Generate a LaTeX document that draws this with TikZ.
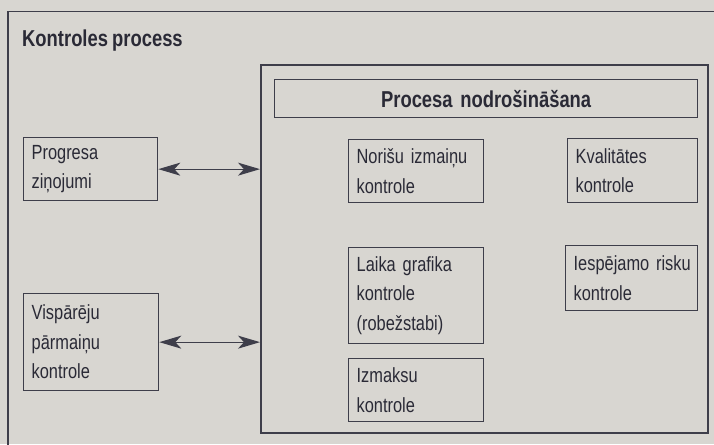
\documentclass[tikz,border=0pt]{standalone}
\usepackage{fontspec}
\setmainfont[FakeStretch=0.8,WordSpace=0.8]{Liberation Sans}
\usetikzlibrary{arrows.meta}
\definecolor{paper}{HTML}{D8D6D1}
\definecolor{ink}{HTML}{3E3E4A}
\definecolor{type}{HTML}{2A2A36}
\tikzset{
  frame/.style={draw=ink, line width=1.5pt, inner sep=0pt, anchor=north west},
  box/.style={draw=ink, line width=1.3pt, anchor=north west, align=left,
    inner xsep=8pt, inner ysep=0pt, text=type,
    font=\fontsize{20.5}{29.5}\selectfont},
  heading/.style={text=type, font=\fontsize{23}{27}\selectfont\bfseries},
  biarrow/.style={draw=ink, line width=1.2pt,
    {Stealth[length=22pt,width=13pt,inset=6pt]}-{Stealth[length=22pt,width=13pt,inset=6pt]}}
}
\begin{document}
\begin{tikzpicture}[x=1pt,y=-1pt]
\useasboundingbox (0,0) rectangle (714,444);
\clip (0,0) rectangle (714,444);
\fill[paper] (0,0) rectangle (714,444);

% outer frame with its heading
\node[frame, minimum width=720, minimum height=436] (outer) at (7,11) {};
\node[heading, anchor=base west, inner sep=0pt] (outertitle) at (22,47) {Kontroles process};

% inner frame with its heading bar
\node[frame, minimum width=447, minimum height=368] (inner) at (260,64) {};
\node[box, align=center, text width=407, minimum height=38, font=\fontsize{23}{27}\selectfont\bfseries] (innertitle) at (274,79) {Procesa~nodrošināšana};

% boxes on the left
\node[box, text width=118, minimum height=63] (prog) at (23,137) {Progresa\\ziņojumi};
\node[box, text width=119, minimum height=97] (visp) at (23,293) {Vispārēju\\pārmaiņu\\kontrole};

% boxes inside the inner frame
\node[box, text width=119, minimum height=63] (noris) at (348,139) {Norišu~izmaiņu\\kontrole};
\node[box, text width=114, minimum height=64] (kval) at (567,138) {Kvalitātes\\kontrole};
\node[box, text width=119, minimum height=96] (laika) at (348,247) {Laika~grafika\\kontrole\\(robežstabi)};
\node[box, text width=116, minimum height=65] (risk) at (565,245) {Iespējamo~risku\\kontrole};
\node[box, text width=119, minimum height=63] (izm) at (348,358) {Izmaksu\\kontrole};

% two-way links to the inner frame
\draw[biarrow] (prog.east) -- (prog.east -| inner.west);
\draw[biarrow] (visp.east) -- (visp.east -| inner.west);
\end{tikzpicture}
\end{document}
